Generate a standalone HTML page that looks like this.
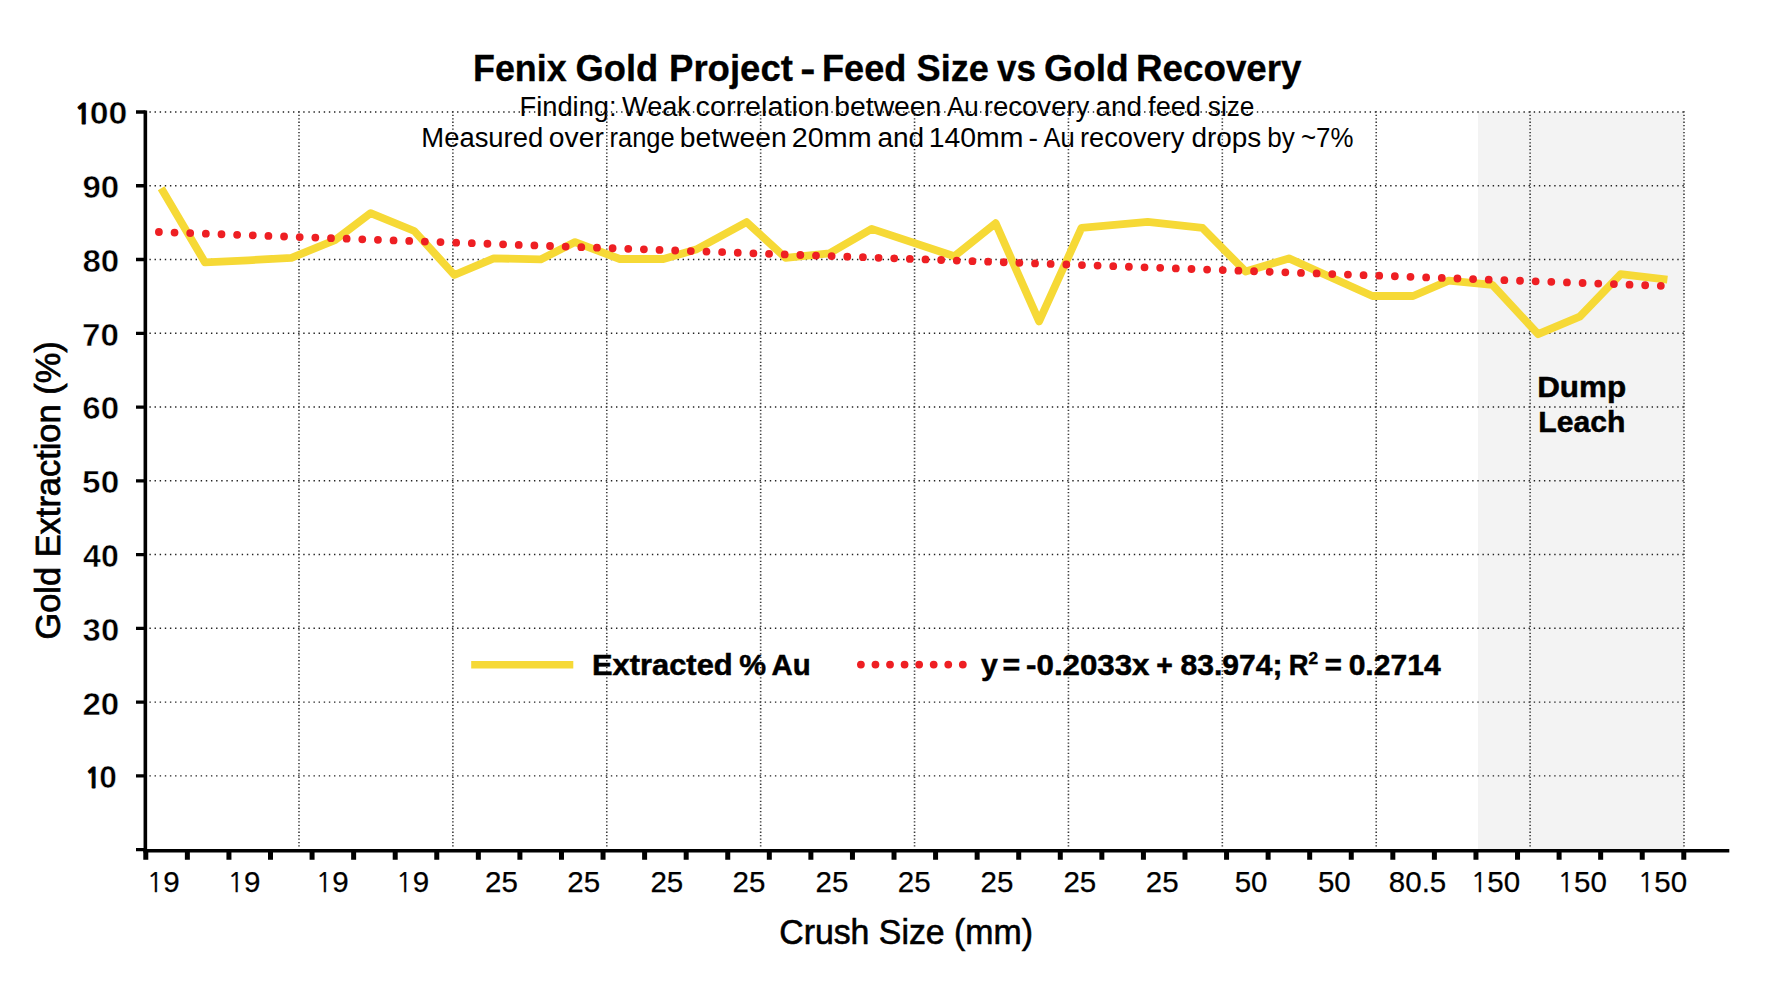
<!DOCTYPE html>
<html lang="en"><head><meta charset="utf-8"><title>Fenix Gold Project - Feed Size vs Gold Recovery</title>
<style>html,body{margin:0;padding:0;background:#fff}body{width:1772px;height:997px;overflow:hidden}svg{display:block}text{font-family:"Liberation Sans", Arial, Helvetica, sans-serif;fill:#000}</style></head><body>
<svg width="1772" height="997" viewBox="0 0 1772 997">
<rect width="1772" height="997" fill="#fff"/>
<rect x="1478" y="112" width="206" height="737.5" fill="#f3f3f3"/>
<text y="115.9" font-size="27"><tspan id="s1w0" x="519.51" textLength="97.11" lengthAdjust="spacingAndGlyphs">Finding:</tspan> <tspan id="s1w1" x="622.0" textLength="68.91" lengthAdjust="spacingAndGlyphs">Weak</tspan> <tspan id="s1w2" x="695.57" textLength="134.27" lengthAdjust="spacingAndGlyphs">correlation</tspan> <tspan id="s1w3" x="834.29" textLength="107.04" lengthAdjust="spacingAndGlyphs">between</tspan> <tspan id="s1w4" x="947.0" textLength="31.73" lengthAdjust="spacingAndGlyphs">Au</tspan> <tspan id="s1w5" x="983.79" textLength="105.61" lengthAdjust="spacingAndGlyphs">recovery</tspan> <tspan id="s1w6" x="1095.44" textLength="46.5" lengthAdjust="spacingAndGlyphs">and</tspan> <tspan id="s1w7" x="1148.12" textLength="52.83" lengthAdjust="spacingAndGlyphs">feed</tspan> <tspan id="s1w8" x="1207.77" textLength="46.68" lengthAdjust="spacingAndGlyphs">size</tspan></text>
<text y="147.1" font-size="27"><tspan id="s2w0" x="421.32" textLength="121.91" lengthAdjust="spacingAndGlyphs">Measured</tspan> <tspan id="s2w1" x="548.86" textLength="55.0" lengthAdjust="spacingAndGlyphs">over</tspan> <tspan id="s2w2" x="609.56" textLength="65.11" lengthAdjust="spacingAndGlyphs">range</tspan> <tspan id="s2w3" x="679.77" textLength="107.11" lengthAdjust="spacingAndGlyphs">between</tspan> <tspan id="s2w4" x="791.86" textLength="79.72" lengthAdjust="spacingAndGlyphs">20mm</tspan> <tspan id="s2w5" x="877.5" textLength="46.67" lengthAdjust="spacingAndGlyphs">and</tspan> <tspan id="s2w6" x="928.71" textLength="94.68" lengthAdjust="spacingAndGlyphs">140mm</tspan> <tspan id="s2w7" x="1028.52" textLength="9.52" lengthAdjust="spacingAndGlyphs">-</tspan> <tspan id="s2w8" x="1043.42" textLength="31.24" lengthAdjust="spacingAndGlyphs">Au</tspan> <tspan id="s2w9" x="1079.99" textLength="104.32" lengthAdjust="spacingAndGlyphs">recovery</tspan> <tspan id="s2w10" x="1191.47" textLength="69.86" lengthAdjust="spacingAndGlyphs">drops</tspan> <tspan id="s2w11" x="1267.2" textLength="27.53" lengthAdjust="spacingAndGlyphs">by</tspan> <tspan id="s2w12" x="1301.0" textLength="52.44" lengthAdjust="spacingAndGlyphs">~7%</tspan></text>
<text y="80.9" font-size="37.0" font-weight="bold" stroke="#000" stroke-width="0.3"><tspan id="tw0" x="473.01" textLength="93.67" lengthAdjust="spacingAndGlyphs">Fenix</tspan> <tspan id="tw1" x="575.57" textLength="82.69" lengthAdjust="spacingAndGlyphs">Gold</tspan> <tspan id="tw2" x="668.99" textLength="124.01" lengthAdjust="spacingAndGlyphs">Project</tspan> <tspan id="tw3" x="800.34" textLength="15.17" lengthAdjust="spacingAndGlyphs">-</tspan> <tspan id="tw4" x="821.96" textLength="84.52" lengthAdjust="spacingAndGlyphs">Feed</tspan> <tspan id="tw5" x="916.57" textLength="72.41" lengthAdjust="spacingAndGlyphs">Size</tspan> <tspan id="tw6" x="997.05" textLength="38.96" lengthAdjust="spacingAndGlyphs">vs</tspan> <tspan id="tw7" x="1044.0" textLength="84.76" lengthAdjust="spacingAndGlyphs">Gold</tspan> <tspan id="tw8" x="1136.0" textLength="165.56" lengthAdjust="spacingAndGlyphs">Recovery</tspan></text>
<path d="M1683.80 112.00H147.80M1683.80 185.76H147.80M1683.80 259.52H147.80M1683.80 333.28H147.80M1683.80 407.04H147.80M1683.80 480.80H147.80M1683.80 554.56H147.80M1683.80 628.32H147.80M1683.80 702.08H147.80M1683.80 775.84H147.80" fill="none" stroke="#222" stroke-width="1.4" stroke-dasharray="1.4 3.727"/>
<path d="M298.99 111.30V848.60M452.88 111.30V848.60M606.77 111.30V848.60M760.66 111.30V848.60M914.55 111.30V848.60M1068.44 111.30V848.60M1222.33 111.30V848.60M1376.22 111.30V848.60M1530.11 111.30V848.60M1684.00 111.30V848.60" fill="none" stroke="#3a3a3a" stroke-width="1.6" stroke-dasharray="1.3 2.13"/>
<polyline points="161.2,188.2 205.0,262.4 248.2,260.3 291.4,257.8 335.0,240.1 370.6,213.1 414.3,231.0 454.3,275.0 493.8,258.4 540.6,259.4 575.1,242.1 619.8,259.0 663.5,259.0 696.0,249.6 746.6,222.1 785.6,257.8 829.4,253.3 871.7,228.9 954.3,256.3 995.6,223.2 1039.1,321.4 1081.5,227.9 1147.7,221.8 1202.5,227.9 1245.6,271.6 1288.9,258.4 1372.4,296.0 1413.1,296.0 1448.7,280.7 1492.4,284.8 1538.1,334.2 1579.7,316.7 1620.6,274.2 1667.4,279.6" fill="none" stroke="#f6d936" stroke-width="7.8" stroke-linejoin="round"/>
<line x1="158.9" y1="232" x2="1660.9" y2="285.8" stroke="#ee1f23" stroke-width="7.8" stroke-linecap="round" stroke-dasharray="0 15.655"/>
<path d="M145.35 110.4V852.4" stroke="#000" stroke-width="3.6" fill="none"/>
<path d="M143.6 850.7H1729.3" stroke="#000" stroke-width="3.6" fill="none"/>
<path d="M136 849.60H145.5M136 775.84H145.5M136 702.08H145.5M136 628.32H145.5M136 554.56H145.5M136 480.80H145.5M136 407.04H145.5M136 333.28H145.5M136 259.52H145.5M136 185.76H145.5M136 112.00H145.5" stroke="#000" stroke-width="3.3" fill="none"/>
<path d="M145.80 850V859.7M187.37 850V859.7M228.94 850V859.7M270.50 850V859.7M312.07 850V859.7M353.64 850V859.7M395.21 850V859.7M436.77 850V859.7M478.34 850V859.7M519.91 850V859.7M561.48 850V859.7M603.04 850V859.7M644.61 850V859.7M686.18 850V859.7M727.75 850V859.7M769.31 850V859.7M810.88 850V859.7M852.45 850V859.7M894.02 850V859.7M935.58 850V859.7M977.15 850V859.7M1018.72 850V859.7M1060.29 850V859.7M1101.85 850V859.7M1143.42 850V859.7M1184.99 850V859.7M1226.56 850V859.7M1268.12 850V859.7M1309.69 850V859.7M1351.26 850V859.7M1392.83 850V859.7M1434.39 850V859.7M1475.96 850V859.7M1517.53 850V859.7M1559.10 850V859.7M1600.66 850V859.7M1642.23 850V859.7M1683.80 850V859.7" stroke="#000" stroke-width="5" fill="none"/>
<text id="y10" x="100.81" y="788.2" font-size="31.8" font-weight="bold" text-anchor="middle" textLength="32.07" lengthAdjust="spacingAndGlyphs" stroke="#fff" stroke-width="0.5"><tspan style="font-family:NanumGothic,IPAGothic,'Liberation Sans',sans-serif" font-size="27.3" stroke="#000" stroke-width="0.9">1</tspan><tspan dx="-2">0</tspan></text>
<text id="y20" x="100.79" y="714.5" font-size="31.8" font-weight="bold" text-anchor="middle" textLength="36.78" lengthAdjust="spacingAndGlyphs" stroke="#fff" stroke-width="0.5">20</text>
<text id="y30" x="100.89" y="640.7" font-size="31.8" font-weight="bold" text-anchor="middle" textLength="36.59" lengthAdjust="spacingAndGlyphs" stroke="#fff" stroke-width="0.5">30</text>
<text id="y40" x="100.91" y="567.0" font-size="31.8" font-weight="bold" text-anchor="middle" textLength="35.73" lengthAdjust="spacingAndGlyphs" stroke="#fff" stroke-width="0.5">40</text>
<text id="y50" x="100.68" y="493.2" font-size="31.8" font-weight="bold" text-anchor="middle" textLength="37.09" lengthAdjust="spacingAndGlyphs" stroke="#fff" stroke-width="0.5">50</text>
<text id="y60" x="100.76" y="419.4" font-size="31.8" font-weight="bold" text-anchor="middle" textLength="36.76" lengthAdjust="spacingAndGlyphs" stroke="#fff" stroke-width="0.5">60</text>
<text id="y70" x="100.57" y="345.7" font-size="31.8" font-weight="bold" text-anchor="middle" textLength="36.94" lengthAdjust="spacingAndGlyphs" stroke="#fff" stroke-width="0.5">70</text>
<text id="y80" x="100.8" y="271.9" font-size="31.8" font-weight="bold" text-anchor="middle" textLength="36.81" lengthAdjust="spacingAndGlyphs" stroke="#fff" stroke-width="0.5">80</text>
<text id="y90" x="100.78" y="198.2" font-size="31.8" font-weight="bold" text-anchor="middle" textLength="36.75" lengthAdjust="spacingAndGlyphs" stroke="#fff" stroke-width="0.5">90</text>
<text id="y100" x="100.76" y="124.4" font-size="31.8" font-weight="bold" text-anchor="middle" textLength="53.16" lengthAdjust="spacingAndGlyphs" stroke="#fff" stroke-width="0.5"><tspan style="font-family:NanumGothic,IPAGothic,'Liberation Sans',sans-serif" font-size="27.3" stroke="#000" stroke-width="0.9">1</tspan><tspan dx="-2">00</tspan></text>
<text id="xl0" x="163.15" y="891.7" font-size="29.5" text-anchor="middle" stroke="#000" stroke-width="0.25"><tspan style="font-family:NanumGothic,IPAGothic,'Liberation Sans',sans-serif" font-size="27.3">1</tspan>9</text>
<text id="xl1" x="244.01" y="891.7" font-size="29.5" text-anchor="middle" stroke="#000" stroke-width="0.25"><tspan style="font-family:NanumGothic,IPAGothic,'Liberation Sans',sans-serif" font-size="27.3">1</tspan>9</text>
<text id="xl2" x="332.15" y="891.7" font-size="29.5" text-anchor="middle" stroke="#000" stroke-width="0.25"><tspan style="font-family:NanumGothic,IPAGothic,'Liberation Sans',sans-serif" font-size="27.3">1</tspan>9</text>
<text id="xl3" x="412.57" y="891.7" font-size="29.5" text-anchor="middle" stroke="#000" stroke-width="0.25"><tspan style="font-family:NanumGothic,IPAGothic,'Liberation Sans',sans-serif" font-size="27.3">1</tspan>9</text>
<text id="xl4" x="501.44" y="891.7" font-size="29.5" text-anchor="middle" stroke="#000" stroke-width="0.25">25</text>
<text id="xl5" x="583.66" y="891.7" font-size="29.5" text-anchor="middle" stroke="#000" stroke-width="0.25">25</text>
<text id="xl6" x="666.88" y="891.7" font-size="29.5" text-anchor="middle" stroke="#000" stroke-width="0.25">25</text>
<text id="xl7" x="748.98" y="891.7" font-size="29.5" text-anchor="middle" stroke="#000" stroke-width="0.25">25</text>
<text id="xl8" x="831.98" y="891.7" font-size="29.5" text-anchor="middle" stroke="#000" stroke-width="0.25">25</text>
<text id="xl9" x="914.20" y="891.7" font-size="29.5" text-anchor="middle" stroke="#000" stroke-width="0.25">25</text>
<text id="xl10" x="996.98" y="891.7" font-size="29.5" text-anchor="middle" stroke="#000" stroke-width="0.25">25</text>
<text id="xl11" x="1079.88" y="891.7" font-size="29.5" text-anchor="middle" stroke="#000" stroke-width="0.25">25</text>
<text id="xl12" x="1162.20" y="891.7" font-size="29.5" text-anchor="middle" stroke="#000" stroke-width="0.25">25</text>
<text id="xl13" x="1251.04" y="891.7" font-size="29.5" text-anchor="middle" stroke="#000" stroke-width="0.25">50</text>
<text id="xl14" x="1334.35" y="891.7" font-size="29.5" text-anchor="middle" stroke="#000" stroke-width="0.25">50</text>
<text id="xl15" x="1417.56" y="891.7" font-size="29.5" text-anchor="middle" stroke="#000" stroke-width="0.25">80.5</text>
<text id="xl16" x="1495.48" y="891.7" font-size="29.5" text-anchor="middle" stroke="#000" stroke-width="0.25"><tspan style="font-family:NanumGothic,IPAGothic,'Liberation Sans',sans-serif" font-size="27.3">1</tspan>50</text>
<text id="xl17" x="1582.11" y="891.7" font-size="29.5" text-anchor="middle" stroke="#000" stroke-width="0.25"><tspan style="font-family:NanumGothic,IPAGothic,'Liberation Sans',sans-serif" font-size="27.3">1</tspan>50</text>
<text id="xl18" x="1662.39" y="891.7" font-size="29.5" text-anchor="middle" stroke="#000" stroke-width="0.25"><tspan style="font-family:NanumGothic,IPAGothic,'Liberation Sans',sans-serif" font-size="27.3">1</tspan>50</text>
<text id="xt" x="906.06" y="944.0" font-size="35" text-anchor="middle" textLength="253.71" lengthAdjust="spacingAndGlyphs" stroke="#000" stroke-width="0.6">Crush Size (mm)</text>
<text id="yt" transform="translate(60.2 490.44) rotate(-90)" font-size="35.3" text-anchor="middle" textLength="298.21" lengthAdjust="spacingAndGlyphs" stroke="#000" stroke-width="0.75">Gold Extraction (%)</text>
<path d="M471.2 664.7H573.3" stroke="#f6d936" stroke-width="7.6" fill="none"/>
<text y="675.0" font-size="29.8" font-weight="bold" stroke="#000" stroke-width="0.5"><tspan id="lw0" x="591.9" textLength="140.81" lengthAdjust="spacingAndGlyphs">Extracted</tspan> <tspan id="lw1" x="739.23" textLength="26.83" lengthAdjust="spacingAndGlyphs">%</tspan> <tspan id="lw2" x="771.56" textLength="39.17" lengthAdjust="spacingAndGlyphs">Au</tspan></text>
<line x1="860.9" y1="664.6" x2="962.9" y2="664.6" stroke="#ee1f23" stroke-width="7.8" stroke-linecap="round" stroke-dasharray="0 14.56"/>
<text y="675.1" font-size="29.8" font-weight="bold" stroke="#000" stroke-width="0.5"><tspan id="qw0" x="981.12" textLength="16.81" lengthAdjust="spacingAndGlyphs">y</tspan> <tspan id="qw1" x="1002.59" textLength="17.69" lengthAdjust="spacingAndGlyphs">=</tspan> <tspan id="qw2" x="1026.1" textLength="123.42" lengthAdjust="spacingAndGlyphs">-0.2033x</tspan> <tspan id="qw3" x="1156.14" textLength="16.55" lengthAdjust="spacingAndGlyphs">+</tspan> <tspan id="qw4" x="1180.44" textLength="101.97" lengthAdjust="spacingAndGlyphs">83.974;</tspan> <tspan id="qw5" x="1288.77" textLength="19.78" lengthAdjust="spacingAndGlyphs">R</tspan><tspan class="sup" x="1308.6" dy="-11.6" font-size="17.2">2</tspan><tspan dy="11.6"> </tspan><tspan id="qw6" x="1324.67" textLength="17.14" lengthAdjust="spacingAndGlyphs">=</tspan> <tspan id="qw7" x="1348.67" textLength="91.94" lengthAdjust="spacingAndGlyphs">0.2714</tspan></text>
<text id="dump" x="1537.16" y="397.1" font-size="29.8" font-weight="bold" textLength="88.92" lengthAdjust="spacingAndGlyphs" stroke="#000" stroke-width="0.5">Dump</text>
<text id="leach" x="1538.26" y="432.1" font-size="29.8" font-weight="bold" textLength="87.1" lengthAdjust="spacingAndGlyphs" stroke="#000" stroke-width="0.5">Leach</text>
</svg></body></html>
